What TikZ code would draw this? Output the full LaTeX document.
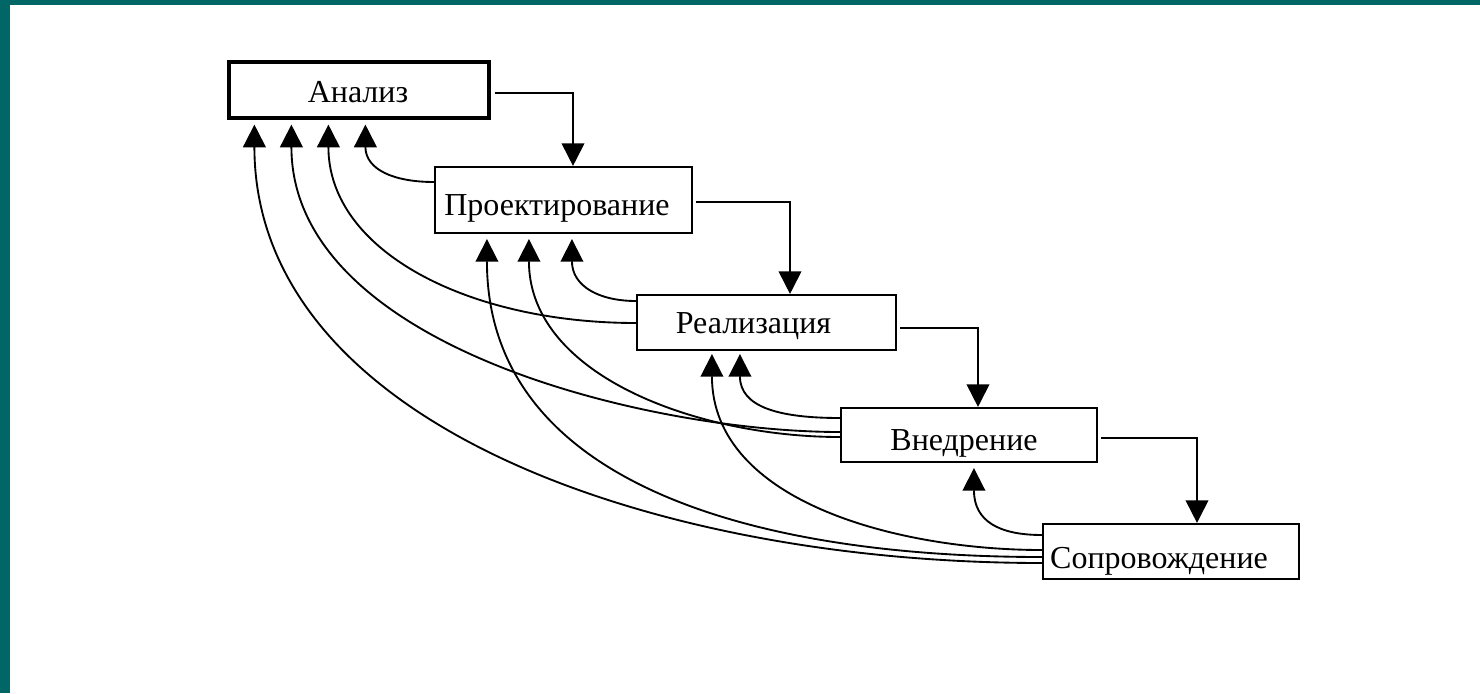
\documentclass[tikz,border=0pt]{standalone}
\usepackage{fontspec}
\setmainfont{Liberation Serif}
\usetikzlibrary{arrows.meta,calc}
\definecolor{frameteal}{RGB}{0,102,102}
\tikzset{
  box/.style={draw=black,line width=1.6pt,rectangle,inner sep=0pt,fill=white},
  lbl/.style={inner sep=0pt,anchor=base,font=\fontsize{24}{28}\selectfont},
  con/.style={draw=black,line width=1.4pt,-{Triangle[width=17pt,length=17pt]}},
  fwd/.style={con,shorten <=0pt},
}
\begin{document}
\begin{tikzpicture}[x=0.75pt,y=-0.75pt]
\useasboundingbox (0,0) rectangle (1480,693);
\fill[white] (0,0) rectangle (1480,693);
\fill[frameteal] (0,0) rectangle (10,693);
\fill[frameteal] (0,0) rectangle (1480,5);

% boxes
\node[box,line width=2.4pt,minimum width=195pt,minimum height=42pt] (an) at (359,90) {};
\node[box,minimum width=192.75pt,minimum height=49.5pt] (pr) at (563.5,200) {};
\node[box,minimum width=194.25pt,minimum height=41.25pt] (re) at (766.5,322.5) {};
\node[box,minimum width=192pt,minimum height=40.5pt] (vn) at (969,435) {};
\node[box,minimum width=192pt,minimum height=41.25pt] (so) at (1171,551.5) {};

% labels
\node[lbl] (anT) at (358,102) {Анализ};
\node[lbl] (prT) at (557,215) {Проектирование};
\node[lbl] (reT) at (753.5,333) {Реализация};
\node[lbl] (vnT) at (964,450) {Внедрение};
\node[lbl] (soT) at (1159,568) {Сопровождение};

% forward connectors
\draw[fwd] ($(an.east)+(4,3)$) -| ($(pr.north)+(9.5,0)$);
\draw[fwd] ($(pr.east)+(3,2)$) -| ($(re.north)+(23.5,0)$);
\draw[fwd] ($(re.east)+(3,5.5)$) -| ($(vn.north)+(9,0)$);
\draw[fwd] ($(vn.east)+(3,3)$) -| ($(so.north)+(26,0)$);

% feedback to Analysis
\draw[con] ($(pr.west)+(0,-18)$) .. controls +(-40,0) and +(0,45) .. ($(an.south west)+(138,5)$);
\draw[con] ($(re.west)+(0,0.5)$) .. controls +(-167,0) and +(0,127) .. ($(an.south west)+(101,5)$);
\draw[con] ($(vn.west)+(0,-3)$) .. controls +(-191,0) and +(0,222) .. ($(an.south west)+(64,5)$);
\draw[con] ($(so.west)+(0,11.5)$) .. controls +(-393,0) and +(0,297) .. ($(an.south west)+(27,5)$);

% feedback to Design
\draw[con] ($(re.west)+(0,-21.5)$) .. controls +(-37,0) and +(0,47) .. ($(pr.south west)+(138,5)$);
\draw[con] ($(vn.west)+(0,2)$) .. controls +(-141,0) and +(0,137) .. ($(pr.south west)+(95,5)$);
\draw[con] ($(so.west)+(0,5.5)$) .. controls +(-293,0) and +(0,242) .. ($(pr.south west)+(53,5)$);

% feedback to Implementation
\draw[con] ($(vn.west)+(0,-17)$) .. controls +(-61,0) and +(0,53) .. ($(re.south west)+(104,3)$);
\draw[con] ($(so.west)+(0,-1.5)$) .. controls +(-143,0) and +(0,148) .. ($(re.south west)+(76,3)$);

% feedback to Deployment
\draw[con] ($(so.west)+(0,-16.5)$) .. controls +(-43,0) and +(0,53) .. ($(vn.south west)+(134,5)$);
\end{tikzpicture}
\end{document}
